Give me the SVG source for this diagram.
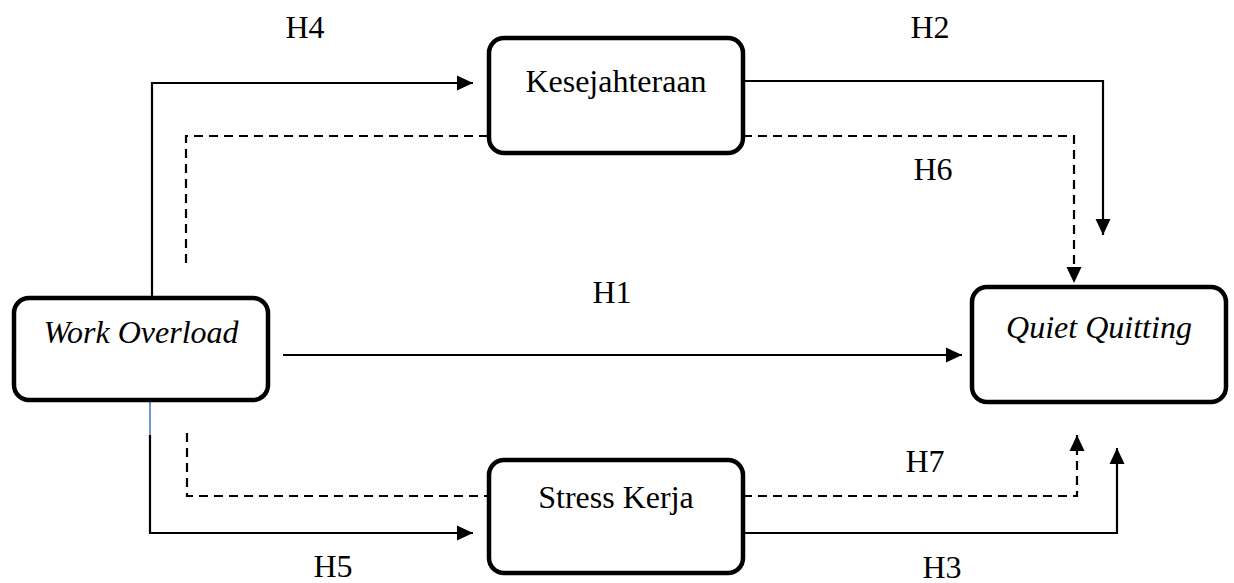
<svg xmlns="http://www.w3.org/2000/svg" width="1234" height="583" viewBox="0 0 1234 583">
<style>
.box{fill:#fff;stroke:#000;stroke-width:4.5}
.t{font-family:"Liberation Serif","Times New Roman",serif;font-size:32px;fill:#000;text-anchor:middle}
.i{font-style:italic}
.c{fill:none;stroke:#000;stroke-width:2.2}
.d{stroke-dasharray:9 6}
</style>
<defs>
<marker id="ah" markerUnits="userSpaceOnUse" markerWidth="18" markerHeight="16" refX="16" refY="8" orient="auto">
<path d="M0,0.5 L16,8 L0,15.5 Z" fill="#000"/>
</marker>
</defs>
<g id="connectors">
<path class="c" d="M152,297 V83 H473" marker-end="url(#ah)"/>
<path class="c d" d="M186,263 V136 H489"/>
<path class="c d" d="M743,136 H1074 V283" marker-end="url(#ah)"/>
<path class="c" d="M743,81 H1103 V235" marker-end="url(#ah)"/>
<path class="c" d="M283,355 H962" marker-end="url(#ah)"/>
<path d="M150,400 V435" stroke="#4472C4" stroke-width="1.5" fill="none"/>
<path class="c" d="M150,435 V533 H473" marker-end="url(#ah)"/>
<path class="c d" d="M187,433 V496 H489"/>
<path class="c d" d="M743,496 H1077 V435" marker-end="url(#ah)"/>
<path class="c" d="M743,533 H1117 V448" marker-end="url(#ah)"/>
</g>
<g id="labels">
<text class="t" x="305" y="38">H4</text>
<text class="t" x="930" y="38">H2</text>
<text class="t" x="933" y="180">H6</text>
<text class="t" x="612" y="303">H1</text>
<text class="t" x="925" y="472">H7</text>
<text class="t" x="333" y="577">H5</text>
<text class="t" x="942" y="578">H3</text>
</g>
<g id="node-work-overload">
<rect class="box" x="14" y="298" width="254" height="102" rx="15"/>
<text class="t i" x="141" y="343">Work Overload</text>
</g>
<g id="node-quiet-quitting">
<rect class="box" x="972" y="287" width="254" height="115" rx="15"/>
<text class="t i" x="1099" y="338">Quiet Quitting</text>
</g>
<g id="node-kesejahteraan">
<rect class="box" x="489" y="38" width="254" height="115" rx="15"/>
<text class="t" x="616" y="92">Kesejahteraan</text>
</g>
<g id="node-stress-kerja">
<rect class="box" x="489" y="460" width="254" height="113" rx="15"/>
<text class="t" x="616" y="508">Stress Kerja</text>
</g>
</svg>
